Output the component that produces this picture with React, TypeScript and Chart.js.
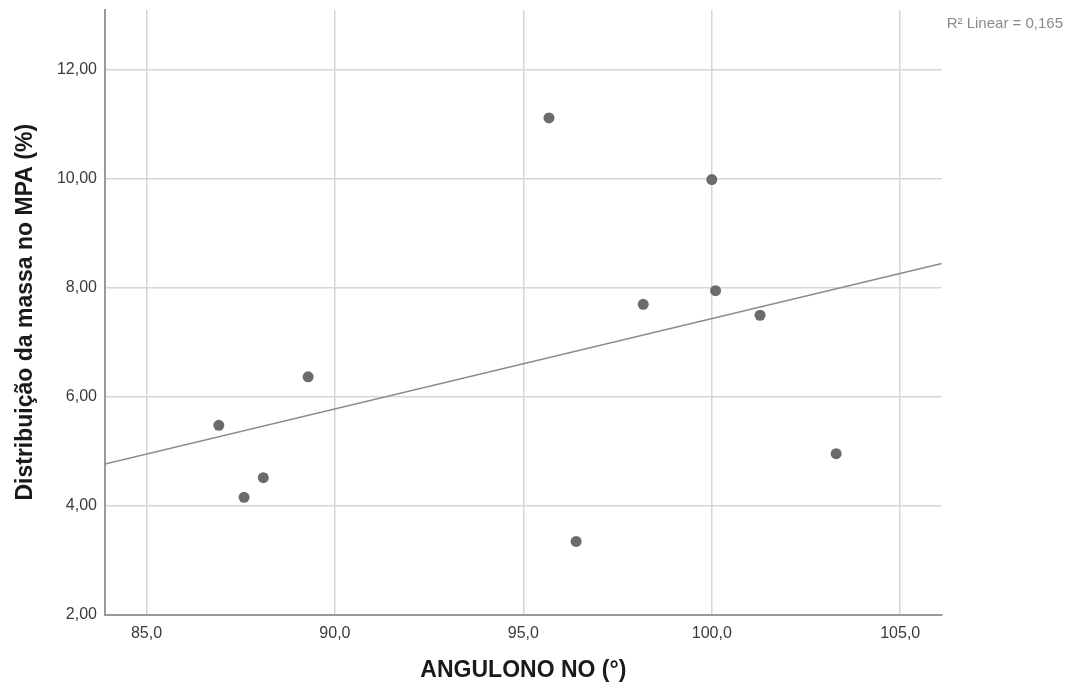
import React, { useEffect, useRef } from "react";
import { Chart, registerables } from "chart.js";

Chart.register(...registerables);

// Data
const ANGULONO_NO = [86.92, 87.59, 88.1, 89.29, 95.68, 96.4, 98.18, 100.0, 100.1, 101.28, 103.3];
const MASSA_MPA = [5.47, 4.15, 4.51, 6.36, 11.11, 3.34, 7.69, 9.98, 7.94, 7.49, 4.95];

// Fit line endpoints
const FIT_X = [83.9, 106.1];
const FIT_Y = [4.76, 8.44];

const X_TICKS = [85, 90, 95, 100, 105];
const X_TICK_LABELS = ["85,0", "90,0", "95,0", "100,0", "105,0"];
const Y_TICKS = [2, 4, 6, 8, 10, 12];
const Y_TICK_LABELS = ["2,00", "4,00", "6,00", "8,00", "10,00", "12,00"];

const X_TITLE = "ANGULONO NO (°)";
const Y_TITLE = "Distribuição da massa no MPA (%)";
const R2_LABEL = "R² Linear = 0,165";

const FONT = "'Liberation Sans', Arial, Helvetica, sans-serif";

export default function App() {
  const ref = useRef<HTMLCanvasElement | null>(null);

  useEffect(() => {
    if (!ref.current) return;
    const r2Plugin = {
      id: "r2label",
      afterDraw(chart: any) {
        const ctx = chart.ctx;
        ctx.save();
        ctx.font = `15px ${FONT}`;
        ctx.fillStyle = "#8a8a8a";
        ctx.textBaseline = "middle";
        ctx.textAlign = "left";
        ctx.fillText(R2_LABEL, chart.chartArea.right + 5, 24);
        ctx.restore();
      },
    };
    const chart = new Chart(ref.current, {
      type: "scatter",
      data: {
        datasets: [
          {
            label: "points",
            data: ANGULONO_NO.map((x, i) => ({ x, y: MASSA_MPA[i] })),
            backgroundColor: "#6b6b6b",
            borderColor: "#6b6b6b",
            pointRadius: 5.5,
            borderWidth: 0,
            order: 1,
          },
          {
            label: "fit",
            type: "line",
            data: FIT_X.map((x, i) => ({ x, y: FIT_Y[i] })),
            borderColor: "#8c8c8c",
            borderWidth: 1.5,
            pointRadius: 0,
            fill: false,
            order: 2,
          } as any,
        ],
      },
      options: {
        responsive: false,
        animation: false,
        layout: { padding: { top: 10, right: 138.3, left: 0, bottom: 0 } },
        plugins: {
          legend: { display: false },
          tooltip: { enabled: false },
        },
        scales: {
          x: {
            type: "linear",
            min: 83.9,
            max: 106.1,
            afterBuildTicks: (s: any) => {
              s.ticks = X_TICKS.map((v) => ({ value: v }));
            },
            afterFit: (s: any) => {
              s.height = 78.5;
              s.paddingLeft = 0;
              s.paddingRight = 0;
            },
            grid: { color: "#d6d6d6", lineWidth: 1.5, drawTicks: false },
            border: { display: true, color: "#9a9a9a", width: 2 },
            ticks: {
              padding: 9,
              color: "#3a3a3a",
              font: { family: FONT, size: 16 },
              maxRotation: 0,
              callback: (v: any) => {
                const i = X_TICKS.indexOf(Number(v));
                return i >= 0 ? X_TICK_LABELS[i] : "";
              },
            },
            title: {
              display: true,
              text: X_TITLE,
              color: "#1a1a1a",
              font: { family: FONT, size: 23, weight: "bold" },
              padding: { top: 0, bottom: 9 },
            },
          },
          y: {
            type: "linear",
            min: 2,
            max: 13.09,
            afterBuildTicks: (s: any) => {
              s.ticks = Y_TICKS.map((v) => ({ value: v }));
            },
            afterFit: (s: any) => {
              s.width = 105;
              s.paddingTop = 0;
              s.paddingBottom = 0;
            },
            grid: { color: "#d6d6d6", lineWidth: 1.5, drawTicks: false },
            border: { display: true, color: "#9a9a9a", width: 2 },
            ticks: {
              padding: 8,
              color: "#3a3a3a",
              font: { family: FONT, size: 16 },
              callback: (v: any) => {
                const i = Y_TICKS.indexOf(Number(v));
                return i >= 0 ? Y_TICK_LABELS[i] : "";
              },
            },
            title: {
              display: true,
              text: Y_TITLE,
              color: "#1a1a1a",
              font: { family: FONT, size: 23, weight: "bold" },
              padding: { top: 12, bottom: 0 },
            },
          },
        },
      },
      plugins: [r2Plugin],
    });
    return () => chart.destroy();
  }, []);

  return (
    <div style={{ position: "absolute", left: 0, top: 0, width: 1080, height: 693, background: "#fff" }}>
      <canvas ref={ref} width={1080} height={693} style={{ display: "block", width: 1080, height: 693 }} />
    </div>
  );
}
